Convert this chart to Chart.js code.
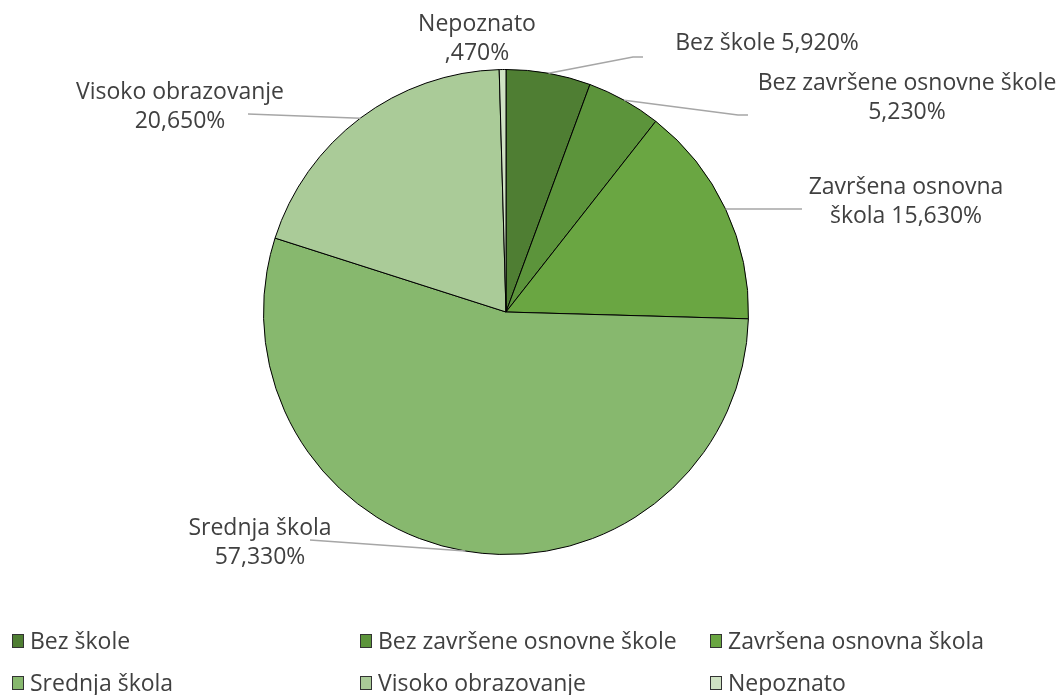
<!DOCTYPE html>
<html>
<head>
<meta charset="utf-8">
<script src="https://cdn.jsdelivr.net/npm/chart.js@4"></script>
<style>
html,body{margin:0;padding:0;background:#fff;}
canvas{display:block;}
</style>
</head>
<body>
<canvas id="c" width="1061" height="695"></canvas>
<script>
// ---- data ----
const categories = ["Bez škole", "Bez završene osnovne škole", "Završena osnovna škola", "Srednja škola", "Visoko obrazovanje", "Nepoznato"];
const values = [5.92, 5.23, 15.63, 57.33, 20.65, 0.47];
const valueLabels = ["5,920%", "5,230%", "15,630%", "57,330%", "20,650%", ",470%"];
const colors = ["#4f7e33", "#5c943b", "#6aa642", "#87b86e", "#aacb98", "#cfe2c3"];

// ---- layout of data labels (text lines built from categories/valueLabels) ----
const labelLayout = [
  {lines: [categories[0] + " " + valueLabels[0]], x: 767, y: 43, leader: [[633,57],[643,57]]},
  {lines: [categories[1], valueLabels[1]], x: 907, y: 83, leader: [[738,115],[748,115]]},
  {lines: ["Završena osnovna", "škola " + valueLabels[2]], x: 906, y: 187, leader: [[802,209]]},
  {lines: [categories[3], valueLabels[3]], x: 260, y: 528, leader: [[310,540]]},
  {lines: [categories[4], valueLabels[4]], x: 180, y: 92, leader: [[248,114]]},
  {lines: [categories[5], valueLabels[5]], x: 477, y: 24, leader: null}
];
const legendPos = [[12,641],[360,641],[710,641],[12,683],[360,683],[710,683]];

const LABEL_FONT = '23px "Open Sans", "Noto Sans", sans-serif';
const LEGEND_FONT = '23px "Open Sans", "Noto Sans", sans-serif';
const TEXT = '#404040';

const overlay = {
  id: 'overlay',
  afterDatasetsDraw(chart) {
    const ctx = chart.ctx;
    const meta = chart.getDatasetMeta(0);
    ctx.save();
    // leader lines
    meta.data.forEach((arc, i) => {
      const L = labelLayout[i];
      if (!L.leader) return;
      const mid = (arc.startAngle + arc.endAngle) / 2;
      const sx = arc.x + Math.cos(mid) * arc.outerRadius;
      const sy = arc.y + Math.sin(mid) * arc.outerRadius;
      ctx.beginPath();
      ctx.moveTo(sx, sy);
      L.leader.forEach(p => ctx.lineTo(p[0], p[1]));
      ctx.strokeStyle = '#a6a6a6';
      ctx.lineWidth = 1.5;
      ctx.stroke();
    });
    // labels
    ctx.font = LABEL_FONT;
    ctx.fillStyle = TEXT;
    ctx.textAlign = 'center';
    ctx.textBaseline = 'middle';
    labelLayout.forEach(L => {
      L.lines.forEach((t, k) => ctx.fillText(t, L.x, L.y + k * 29));
    });
    // legend
    ctx.font = LEGEND_FONT;
    ctx.textAlign = 'left';
    categories.forEach((c, i) => {
      const [x, y] = legendPos[i];
      ctx.fillStyle = colors[i];
      ctx.fillRect(x, y - 7, 12, 14);
      ctx.strokeStyle = '#333';
      ctx.lineWidth = 1;
      ctx.strokeRect(x + 0.5, y - 6.5, 11, 13);
      ctx.fillStyle = TEXT;
      ctx.fillText(c, x + 18, y + 1);
    });
    ctx.restore();
  }
};

new Chart(document.getElementById('c'), {
  type: 'pie',
  data: {
    labels: categories,
    datasets: [{
      data: values,
      backgroundColor: colors,
      borderColor: '#000',
      borderWidth: 1
    }]
  },
  options: {
    responsive: false,
    animation: false,
    layout: {padding: {top: 69, bottom: 140, left: 263, right: 312}},
    plugins: {legend: {display: false}, tooltip: {enabled: false}}
  },
  plugins: [overlay]
});
</script>
</body>
</html>
